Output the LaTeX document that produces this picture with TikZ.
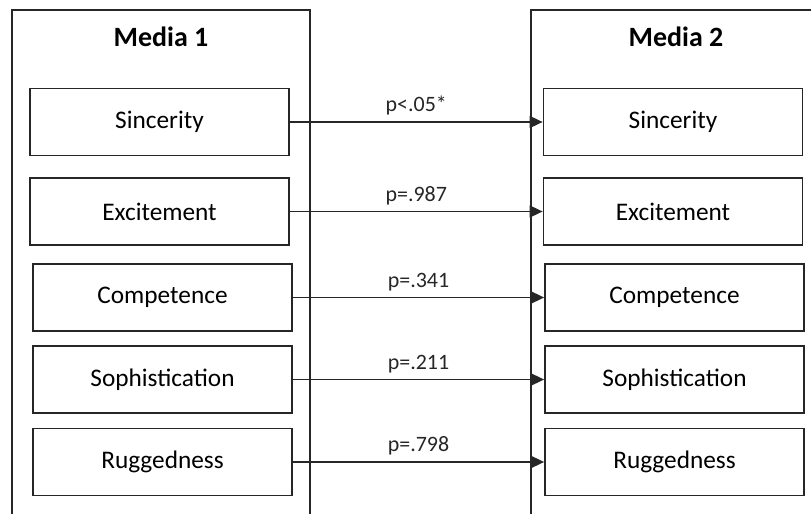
\documentclass[tikz,border=0pt]{standalone}
\usepackage{fontspec}
\setmainfont{Carlito}
\usetikzlibrary{arrows.meta}

\begin{document}
\begin{tikzpicture}[
    >={Triangle[length=2.6mm, width=2.4mm]},
    every node/.style={font=\rmfamily},
    % 外框
    frame/.style={
        draw=black!85, line width=1pt, anchor=north,
        minimum width=59.6mm, minimum height=120mm
    },
    % 标题
    title/.style={anchor=base, font=\rmfamily\bfseries\fontsize{15.9}{18}\selectfont},
    % 品牌个性维度节点
    dim/.style={
        draw=black!85, line width=1pt,
        minimum width=51.8mm, minimum height=13.4mm,
        font=\rmfamily\fontsize{14.4}{17}\selectfont
    },
    % 连线
    link/.style={->, line width=0.9pt, black!85},
    plabel/.style={above, inner sep=3.5pt, text=black!85,
        font=\rmfamily\fontsize{12.5}{15}\selectfont},
]

\useasboundingbox (0, 0) rectangle (16.22, -10.28);
\clip (0, 0) rectangle (16.22, -10.28);

%% ── 外框与标题 ───────────────────────────────────────
\node[frame] (media1) at (3.22, -0.18) {};
\node[frame] (media2) at (13.6, -0.18) {};

\node[title] (t1) at (3.22, -0.94)  {Media 1};
\node[title] (t2) at (13.52, -0.94) {Media 2};

%% ── 左列（Media 1） ──────────────────────────────────
\node[dim] (a1) at (3.19, -2.44) {Sincerity};
\node[dim] (a2) at (3.19, -4.23) {Excitement};
\node[dim] (a3) at (3.25, -5.95) {Competence};
\node[dim] (a4) at (3.25, -7.59) {Sophistication};
\node[dim] (a5) at (3.25, -9.24) {Ruggedness};

%% ── 右列（Media 2） ──────────────────────────────────
\node[dim] (b1) at (13.46, -2.44) {Sincerity};
\node[dim] (b2) at (13.46, -4.23) {Excitement};
\node[dim] (b3) at (13.49, -5.95) {Competence};
\node[dim] (b4) at (13.49, -7.59) {Sophistication};
\node[dim] (b5) at (13.49, -9.24) {Ruggedness};

%% ── 左 → 右连线（p 值） ──────────────────────────────
\foreach \i/\p in {1/p<.05*, 2/p=.987, 3/p=.341, 4/p=.211, 5/p=.798}{
    \draw[link] (a\i.east) -- node[plabel] {\p} (b\i.west);
}

\end{tikzpicture}
\end{document}
